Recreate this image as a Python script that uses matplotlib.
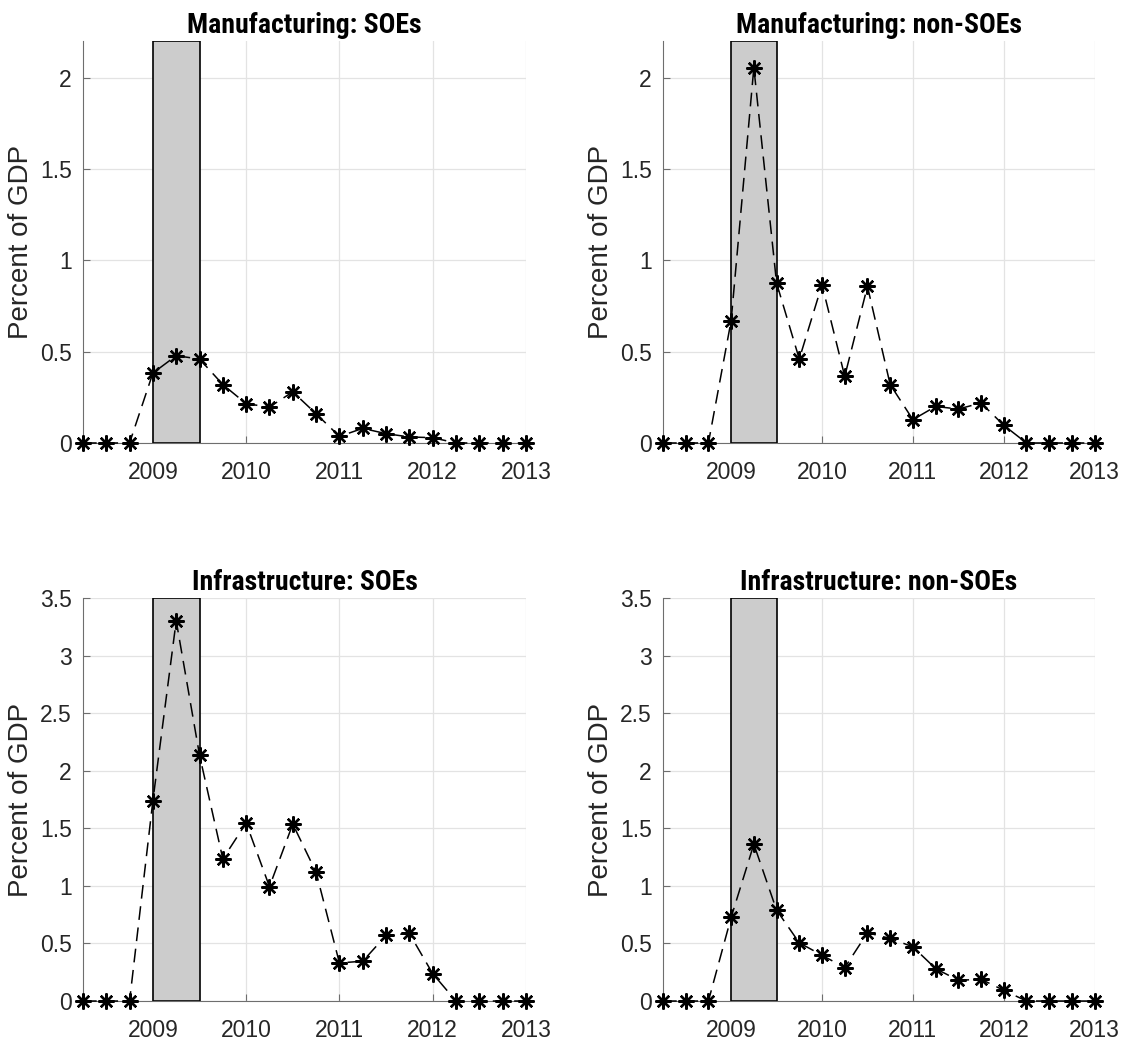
import numpy as np
import matplotlib
matplotlib.use("Agg")
import matplotlib.pyplot as plt
from matplotlib import font_manager
from matplotlib.ticker import FuncFormatter

plt.rcParams['font.family'] = ['Liberation Sans', 'DejaVu Sans']

# quarterly dates, 2008Q2 .. 2013Q1
quarters = [2008.25, 2008.5, 2008.75, 2009.0, 2009.25, 2009.5, 2009.75,
            2010.0, 2010.25, 2010.5, 2010.75, 2011.0, 2011.25, 2011.5,
            2011.75, 2012.0, 2012.25, 2012.5, 2012.75, 2013.0]

manuf_soe = [0, 0, 0, 0.383, 0.478, 0.46, 0.32, 0.215, 0.197, 0.28, 0.16,
             0.036, 0.08, 0.051, 0.033, 0.029, 0, 0, 0, 0]
manuf_nonsoe = [0, 0, 0, 0.67, 2.056, 0.876, 0.46, 0.867, 0.365, 0.858, 0.32,
                0.128, 0.2, 0.186, 0.219, 0.097, 0, 0, 0, 0]
infra_soe = [0, 0, 0, 1.741, 3.305, 2.137, 1.235, 1.547, 0.994, 1.538, 1.119,
             0.331, 0.346, 0.57, 0.587, 0.238, 0, 0, 0, 0]
infra_nonsoe = [0, 0, 0, 0.727, 1.363, 0.79, 0.506, 0.398, 0.29, 0.593, 0.544,
                0.471, 0.282, 0.18, 0.189, 0.093, 0, 0, 0, 0]

titles = ['Manufacturing: SOEs', 'Manufacturing: non-SOEs',
          'Infrastructure: SOEs', 'Infrastructure: non-SOEs']
series = [manuf_soe, manuf_nonsoe, infra_soe, infra_nonsoe]
ymax = [2.2, 2.2, 3.5, 3.5]
yticks = [[0, 0.5, 1, 1.5, 2], [0, 0.5, 1, 1.5, 2],
          [0, 0.5, 1, 1.5, 2, 2.5, 3, 3.5], [0, 0.5, 1, 1.5, 2, 2.5, 3, 3.5]]
xticks = [2009, 2010, 2011, 2012, 2013]
shade = (2009.0, 2009.5)


def pick_title_font():
    # the original title uses a narrow bold face; use one if it is installed
    for fam, size in [('Liberation Sans Narrow', 19), ('Roboto Condensed', 20),
                      ('Open Sans Condensed', 19)]:
        try:
            font_manager.findfont(font_manager.FontProperties(family=fam),
                                  fallback_to_default=False)
            return fam, size
        except Exception:
            continue
    return 'Liberation Sans', 16


title_family, title_size = pick_title_font()

fig = plt.figure(figsize=(11.36, 10.46), dpi=100)

# axes boxes in figure fractions (left, bottom, width, height)
boxes = [(0.073, 0.5765, 0.390, 0.384),
         (0.5836, 0.5765, 0.380, 0.384),
         (0.073, 0.043, 0.390, 0.385),
         (0.5836, 0.043, 0.380, 0.385)]

asterisk = (8, 2, 0)
axis_gray = '#6e6e6e'
text_gray = '#262626'

for box, title, y, top, yt in zip(boxes, titles, series, ymax, yticks):
    ax = fig.add_axes(box)
    ax.axvspan(shade[0], shade[1], facecolor='#cccccc', edgecolor='black',
               linewidth=1.2, zorder=1)
    ax.plot(quarters, y, color='black', linestyle=(0, (9, 5)), linewidth=1.1,
            marker=asterisk, markersize=11.5, markeredgewidth=1.7, zorder=3,
            clip_on=False)
    ax.set_xlim(2008.25, 2013)
    ax.set_ylim(0, top)
    ax.set_xticks(xticks)
    ax.set_yticks(yt)
    ax.yaxis.set_major_formatter(FuncFormatter(lambda v, p: '%g' % v))
    ax.grid(True, color='#e3e3e3', linewidth=0.9, zorder=0)
    ax.set_axisbelow(True)
    for s in ['top', 'right']:
        ax.spines[s].set_visible(False)
    ax.spines['left'].set_color(axis_gray)
    ax.spines['bottom'].set_color(axis_gray)
    ax.tick_params(direction='in', length=5, colors=axis_gray,
                   labelcolor=text_gray, labelsize=16.5)
    ax.tick_params(axis='x', pad=13)
    ax.tick_params(axis='y', pad=8)
    ax.set_ylabel('Percent of GDP', fontsize=20, color=text_gray, labelpad=4)
    ax.set_title(title, fontsize=title_size, fontweight='bold', pad=6,
                 family=[title_family, 'Liberation Sans'])

fig.savefig('out.png', dpi=100)
